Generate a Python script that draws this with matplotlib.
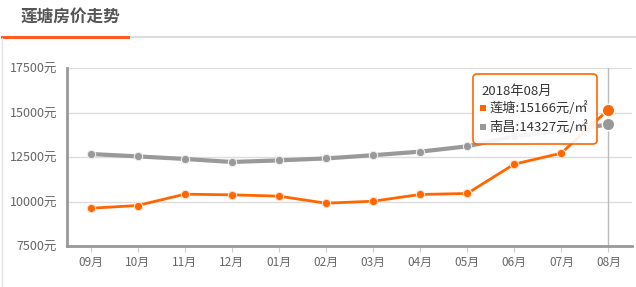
import matplotlib
matplotlib.use("Agg")
import matplotlib.pyplot as plt
from matplotlib.patches import FancyBboxPatch, Rectangle
from matplotlib.lines import Line2D
from matplotlib.transforms import IdentityTransform

plt.rcParams['font.family'] = ['Noto Sans CJK SC', 'DejaVu Sans']

title = "莲塘房价走势"
months = ["09月", "10月", "11月", "12月", "01月", "02月", "03月", "04月", "05月", "06月", "07月", "08月"]
liantang = [9620, 9775, 10410, 10375, 10300, 9905, 10015, 10395, 10450, 12100, 12715, 15166]
nanchang = [12670, 12535, 12390, 12220, 12310, 12420, 12600, 12800, 13100, 13660, 13960, 14327]
yticks = [7500, 10000, 12500, 15000, 17500]
name_a = "莲塘"
name_b = "南昌"
tip_title = "2018年08月"

W, H = 636, 287
fig = plt.figure(figsize=(W / 100, H / 100), dpi=100)
fig.patch.set_facecolor("white")

# header
fig.text(20 / W, 1 - 18 / H, title, fontsize=12, fontweight="bold", color="#555555",
         va="center", ha="left")
fig.add_artist(Line2D([128 / W, 1], [1 - 37 / H, 1 - 37 / H], color="#dddddd", lw=1.5,
                      transform=fig.transFigure))
fig.add_artist(Line2D([2 / W, 128 / W], [1 - 37 / H, 1 - 37 / H], color="#ff5a1f", lw=2.2,
                      transform=fig.transFigure))
fig.add_artist(Line2D([2 / W, 2 / W], [0, 1 - 38 / H], color="#e3e3e3", lw=1,
                      transform=fig.transFigure))

left, right, top, bottom = 67, 632, 68, 246
ax = fig.add_axes([left / W, 1 - bottom / H, (right - left) / W, (bottom - top) / H])
x = list(range(len(months)))
ax.set_xlim(-0.5, len(months) - 0.5)
ax.set_ylim(7500, 17500)
ax.set_yticks(yticks)
ax.set_yticklabels([f"{v}元" for v in yticks], fontsize=9, color="#666666")
ax.set_xticks(x)
ax.set_xticklabels(months, fontsize=8.5, color="#666666")
ax.tick_params(axis="y", length=0, pad=7)
ax.tick_params(axis="x", length=4, color="#cccccc", pad=3)
for s in ["top", "right"]:
    ax.spines[s].set_visible(False)
for s in ["left", "bottom"]:
    ax.spines[s].set_color("#999999")
    ax.spines[s].set_linewidth(2)
ax.grid(axis="y", color="#dddddd", lw=1)
ax.set_axisbelow(True)

# crosshair
ax.axvline(x[-1], color="#bbbbbb", lw=1, zorder=1)

ax.plot(x, nanchang, color="#999999", lw=3, marker="o", ms=6, mfc="#999999",
        mec="#eeeeee", mew=0.8, zorder=3)
ax.plot(x, liantang, color="#ff6600", lw=2, marker="o", ms=6, mfc="#ff6600",
        mec="#ffe0cc", mew=0.8, zorder=4)
ax.plot([x[-1]], [nanchang[-1]], "o", ms=9, color="#999999", mec="white", mew=1, zorder=5)
ax.plot([x[-1]], [liantang[-1]], "o", ms=9, color="#ff6600", mec="white", mew=1, zorder=5)

# tooltip
tx0, ty0, tx1, ty1 = 473, 74, 597, 144
box = FancyBboxPatch((tx0, H - ty1), tx1 - tx0, ty1 - ty0,
                     boxstyle="round,pad=0,rounding_size=4",
                     fc=(1, 1, 1, 0.9), ec="#ff6600", lw=1.2,
                     transform=IdentityTransform(), zorder=10)
fig.add_artist(box)
fig.text(481 / W, 1 - 91 / H, tip_title, fontsize=9.5, color="#333333", va="center", ha="left",
         zorder=11)
rows = [(108, "#ff6600", f"{name_a}:{liantang[-1]}元/㎡"),
        (127, "#999999", f"{name_b}:{nanchang[-1]}元/㎡")]
for yy, c, t in rows:
    fig.add_artist(Rectangle((480, H - yy - 3), 6, 6, fc=c, ec="none",
                             transform=IdentityTransform(), zorder=11))
    fig.text(489 / W, 1 - yy / H, t, fontsize=9.5, color="#333333", va="center", ha="left",
             zorder=11)

fig.savefig("out.png", dpi=100, facecolor="white")
